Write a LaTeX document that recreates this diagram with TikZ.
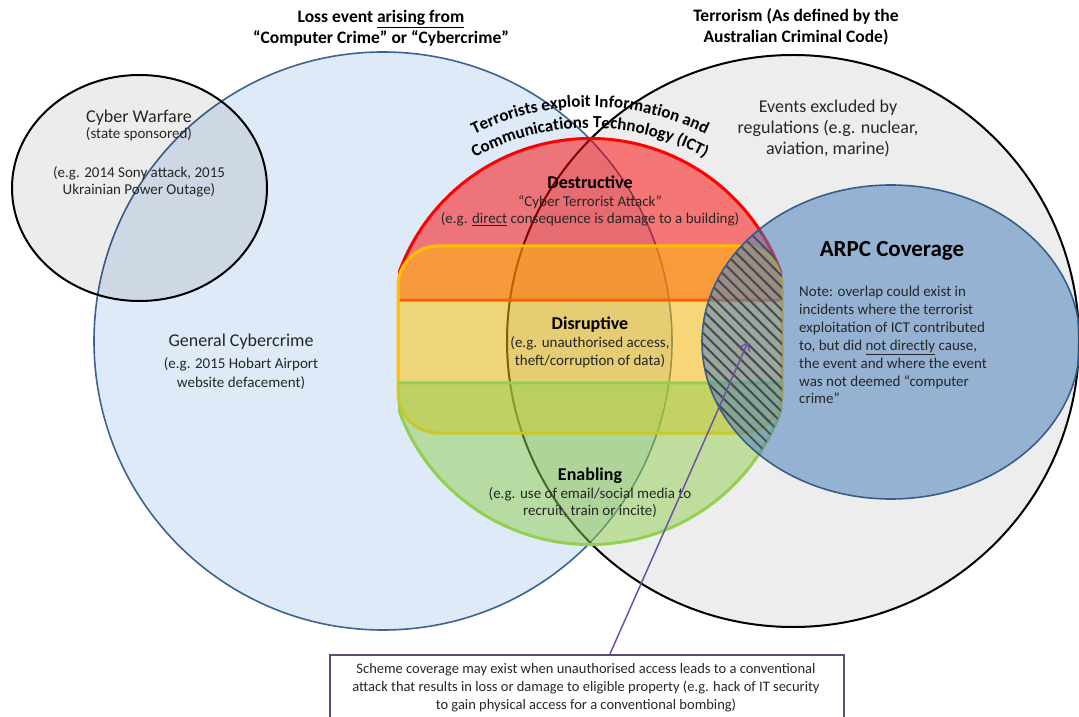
\documentclass[tikz,border=0pt]{standalone}
\usepackage{fontspec}
\setmainfont{Carlito}
\usetikzlibrary{calc,decorations.text,patterns.meta,arrows.meta}
\definecolor{cbfill}{RGB}{222,234,247}
\definecolor{cbline}{RGB}{62,98,145}
\definecolor{ictred}{RGB}{255,0,0}
\definecolor{ictgold}{RGB}{255,192,0}
\definecolor{ictgreen}{RGB}{146,208,80}
\definecolor{arpcfill}{RGB}{79,129,189}
\definecolor{arpcline}{RGB}{56,93,138}
\definecolor{boxline}{RGB}{96,73,122}
\definecolor{arrowc}{RGB}{112,80,160}
\definecolor{hatchc}{RGB}{72,76,84}
\definecolor{txt}{RGB}{38,38,38}
\begin{document}
\begin{tikzpicture}[x=1pt,y=1pt,
  title/.style={font=\bfseries\fontsize{17.5}{20}\selectfont, anchor=base, inner sep=0pt, text=black},
  head/.style={font=\fontsize{18}{21}\selectfont, anchor=base, inner sep=0pt, text=txt},
  boldhead/.style={font=\bfseries\fontsize{18}{21}\selectfont, anchor=base, inner sep=0pt, text=black},
  body/.style={font=\fontsize{15}{18}\selectfont, anchor=base, inner sep=0pt, text=txt},
  note/.style={body, anchor=base west},
  boxtext/.style={font=\fontsize{14.5}{17}\selectfont, anchor=base, inner sep=0pt, text=txt},
  hatch/.style={pattern={Lines[angle=-45,distance=8pt,line width=1.8pt]}, pattern color=hatchc},
]
\useasboundingbox (0,0) rectangle (1079,716);
\clip (0,0) rectangle (1079,716);
\coordinate (cc) at (383,375);
\coordinate (tc) at (793,375);
\coordinate (ict) at (590,374.5);
\coordinate (ictarc) at (590,349);
\coordinate (arpc) at (891,374);
\coordinate (cw) at (139.5,528);

% big circles
\fill[cbfill] (cc) circle[radius=289pt];
\fill[black, fill opacity=0.07] (tc) circle[radius=286pt];
\draw[cbline, line width=1.6pt] (cc) circle[radius=289pt];
\draw[black, line width=2pt] (tc) circle[radius=286pt];

% cyber warfare
\fill[black, fill opacity=0.075] (cw) ellipse[x radius=127.5pt, y radius=113pt];
\draw[black, line width=2pt] (cw) ellipse[x radius=127.5pt, y radius=113pt];

% ICT: red top and green bottom, limited to the band of the rounded box
\begin{scope}
  \clip (398,0) rectangle (782,716);
  \fill[ictred, fill opacity=0.5] ($(ict)+(11.78:203pt)$) arc[start angle=11.78, end angle=168.22, radius=203pt] -- cycle;
  \draw[ictred, line width=3pt] ($(ict)+(11.78:203pt)$) arc[start angle=11.78, end angle=168.22, radius=203pt] -- cycle;
\end{scope}
\fill[ictgold, fill opacity=0.5, rounded corners=40pt] (398,283) rectangle (782,470);
\draw[ictgold, line width=3pt, rounded corners=40pt] (398,283) rectangle (782,470);
\begin{scope}
  \clip (398,0) rectangle (782,716);
  \fill[ictgreen, fill opacity=0.5] ($(ict)+(191.79:203pt)$) arc[start angle=191.79, end angle=348.21, radius=203pt] -- cycle;
  \draw[ictgreen, line width=3pt] ($(ict)+(191.79:203pt)$) arc[start angle=191.79, end angle=348.21, radius=203pt] -- cycle;
\end{scope}

% ARPC
\fill[arpcfill, fill opacity=0.55] (arpc) ellipse[x radius=189pt, y radius=157pt];
\begin{scope}
  \clip (arpc) ellipse[x radius=189pt, y radius=157pt];
  \clip (398,0) rectangle (782,716);
  \fill[hatch] (ict) circle[radius=203pt];
  \fill[hatch, rounded corners=40pt] (398,283) rectangle (782,470);
\end{scope}
\draw[arpcline, line width=1.6pt] (arpc) ellipse[x radius=189pt, y radius=157pt];

% titles
\node[title] (t1a) at (381,693) {Loss event \underline{arising from}};
\node[title] (t1b) at (381,672) {“Computer Crime” or “Cybercrime”};
\node[title] (t2a) at (796,694) {Terrorism (As defined by the};
\node[title] (t2b) at (796,673) {Australian Criminal Code)};

% cyber warfare text
\node[head] (cw1) at (139,593) {Cyber Warfare};
\node[body] (cw2) at (139,577) {(state sponsored)};
\node[body] (cw3) at (139,538) {(e.g. 2014 Sony attack, 2015};
\node[body] (cw4) at (139,521) {Ukrainian Power Outage)};

% general cybercrime
\node[head] (gc1) at (241,370) {General Cybercrime};
\node[body] (gc2) at (241,348) {(e.g. 2015 Hobart Airport};
\node[body] (gc3) at (241,329) {website defacement)};

% curved ICT text
\path[decorate, decoration={text along path, text align=center,
  text={|\bfseries\fontsize{17}{20}\selectfont\color{black}|Terrorists exploit Information and}}]
  ($(ictarc)+(150:260pt)$) arc[start angle=150, end angle=30, radius=260pt];
\path[decorate, decoration={text along path, text align=center,
  text={|\bfseries\fontsize{17}{20}\selectfont\color{black}|Communications Technology (ICT)}}]
  ($(ictarc)+(150:239pt)$) arc[start angle=150, end angle=30, radius=239pt];

% destructive
\node[boldhead] (d1) at (590,527) {Destructive};
\node[body] (d2) at (590,509) {“Cyber Terrorist Attack”};
\node[body] (d3) at (590,492) {(e.g. \underline{direct} consequence is damage to a building)};

% disruptive
\node[boldhead] (r1) at (590,386) {Disruptive};
\node[body] (r2) at (590,368) {(e.g. unauthorised access,};
\node[body] (r3) at (590,351) {theft/corruption of data)};

% enabling
\node[boldhead] (e1) at (590,236) {Enabling};
\node[body] (e2) at (590,218) {(e.g. use of email/social media to};
\node[body] (e3) at (590,201) {recruit, train or incite)};

% events excluded
\node[head] (x1) at (828,603) {Events excluded by};
\node[head] (x2) at (828,582) {regulations (e.g. nuclear,};
\node[head] (x3) at (828,561) {aviation, marine)};

% ARPC
\node[font=\bfseries\fontsize{23}{26}\selectfont, anchor=base, inner sep=0pt] (a1) at (892,459) {ARPC Coverage};
\node[note] (n1) at (799,419) {Note: overlap could exist in};
\node[note] (n2) at (799,401) {incidents where the terrorist};
\node[note] (n3) at (799,383) {exploitation of ICT contributed};
\node[note] (n4) at (799,366) {to, but did \underline{not directly} cause,};
\node[note] (n5) at (799,348) {the event and where the event};
\node[note] (n6) at (799,330) {was not deemed “computer};
\node[note] (n7) at (799,313) {crime”};

% box and arrow
\node[draw=boxline, line width=1.5pt, minimum width=514pt, minimum height=90pt, anchor=north west, inner sep=0pt] (box) at (329,62) {};
\node[boxtext] (b1) at (586,43) {Scheme coverage may exist when unauthorised access leads to a conventional};
\node[boxtext] (b2) at (586,25) {attack that results in loss or damage to eligible property (e.g. hack of IT security};
\node[boxtext] (b3) at (586,7) {to gain physical access for a conventional bombing)};
\coordinate (tip) at (748,374);
\draw[arrowc, line width=1.5pt, -{Straight Barb[length=7pt,width=11pt]}] ($(box.north west)!0.545!(box.north east)$) -- (tip);
\end{tikzpicture}
\end{document}
